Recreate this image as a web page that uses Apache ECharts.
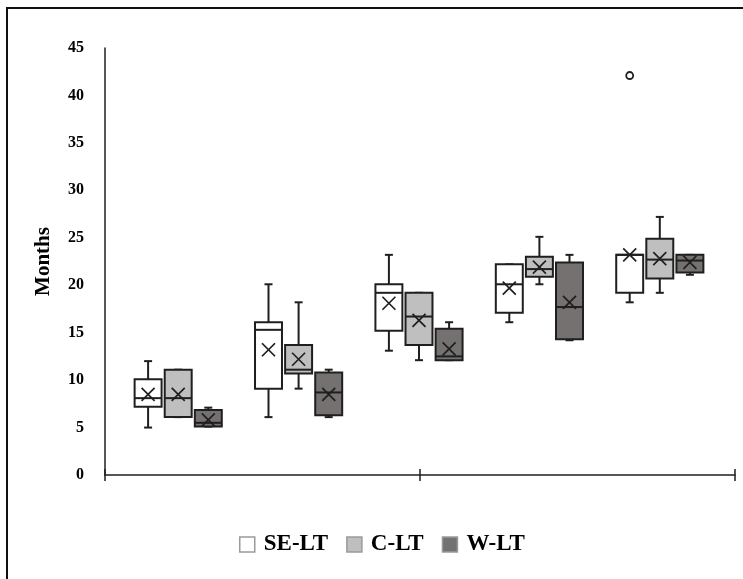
<!DOCTYPE html>
<html>
<head>
<meta charset="UTF-8">
<script src="https://cdn.jsdelivr.net/npm/echarts@6/dist/echarts.min.js"></script>
<style>
  html, body { margin: 0; padding: 0; background: #fff; }
  #chart { width: 743px; height: 579px; }
</style>
</head>
<body>
<div id="chart"></div>
<script>
// groups along the x axis (no labels in the figure)
const groups = ['1', '2', '3', '4', '5'];
const seriesNames = ['SE-LT', 'C-LT', 'W-LT'];

// box stats: [min, Q1, median, Q3, max]
const seLT = [
  [5, 7.2, 8.1, 10.1, 12],
  [6.1, 9.1, 15.3, 16.1, 20.1],
  [13.1, 15.2, 19.2, 20.1, 23.2],
  [16.1, 17.1, 20.1, 22.2, 22.2],
  [18.2, 19.2, 23.2, 23.2, 23.2]
];
const cLT = [
  [6.1, 6.1, 8.1, 11.1, 11.1],
  [9.1, 10.7, 11.1, 13.7, 18.2],
  [12.1, 13.7, 16.7, 19.2, 19.2],
  [20.1, 20.9, 21.7, 23, 25.1],
  [19.2, 20.7, 22.7, 24.9, 27.2]
];
const wLT = [
  [5.1, 5.1, 5.5, 6.85, 7.1],
  [6.1, 6.3, 8.7, 10.8, 11.1],
  [12.1, 12.1, 12.5, 15.4, 16.1],
  [14.2, 14.3, 17.7, 22.4, 23.2],
  [21.1, 21.35, 22.6, 23.2, 23.2]
];
// means (the x marks)
const seMean = [8.5, 13.2, 18.1, 19.7, 23.2];
const cMean = [8.5, 12.2, 16.3, 21.9, 22.8];
const wMean = [5.8, 8.5, 13.3, 18.2, 22.4];
// outliers: [group index, series index, value]
const outliers = [[4, 0, 42.1]];

const yTicks = { min: 0, max: 45, interval: 5 };

const FONT = '"Liberation Serif", "DejaVu Serif", serif';
const INK = '#1f1f1f';
const fills = ['#ffffff', '#bfbfbf', '#767171'];

function boxRenderer(slot, fill) {
  return function (params, api) {
    const g = api.value(0);
    const band = api.size([1, 0])[0];
    const cx = api.coord([g, 0])[0] + (slot - 1) * band / 4;
    const hw = band * 0.112;
    const cap = 4;
    const m = 6.5;
    const y = i => api.coord([g, api.value(i)])[1];
    const yMin = y(1), q1 = y(2), med = y(3), q3 = y(4), yMax = y(5), mean = y(6);
    const line = (x1, y1, x2, y2, w) => ({
      type: 'line',
      shape: { x1: x1, y1: y1, x2: x2, y2: y2 },
      style: { stroke: INK, lineWidth: w || 2 }
    });
    return {
      type: 'group',
      children: [
        line(cx, q3, cx, yMax), line(cx - cap, yMax, cx + cap, yMax),
        line(cx, q1, cx, yMin), line(cx - cap, yMin, cx + cap, yMin),
        {
          type: 'rect',
          shape: { x: cx - hw, y: q3, width: 2 * hw, height: q1 - q3 },
          style: { fill: fill, stroke: INK, lineWidth: 2 }
        },
        line(cx - hw, med, cx + hw, med),
        line(cx - m, mean - m, cx + m, mean + m, 1.7),
        line(cx - m, mean + m, cx + m, mean - m, 1.7)
      ]
    };
  };
}

function outlierRenderer(params, api) {
  const g = api.value(0);
  const band = api.size([1, 0])[0];
  const p = api.coord([g, api.value(1)]);
  const cx = p[0] + (api.value(2) - 1) * band / 4;
  return {
    type: 'circle',
    shape: { cx: cx, cy: p[1], r: 3.5 },
    style: { fill: '#fff', stroke: INK, lineWidth: 1.8 }
  };
}

const stats = [seLT, cLT, wLT];
const means = [seMean, cMean, wMean];

const boxSeries = seriesNames.map((name, s) => ({
  name: name,
  type: 'custom',
  xAxisIndex: 2,
  yAxisIndex: 1,
  itemStyle: { color: fills[s] },
  encode: { x: 0, y: [1, 2, 3, 4, 5] },
  renderItem: boxRenderer(s, fills[s]),
  data: stats[s].map((d, i) => [groups[i]].concat(d, [means[s][i]]))
}));

const chart = echarts.init(document.getElementById('chart'));
chart.setOption({
  animation: false,
  backgroundColor: '#fff',
  graphic: [{
    type: 'rect',
    shape: { x: 7, y: 8, width: 900, height: 800 },
    style: { fill: 'none', stroke: '#111', lineWidth: 2 },
    silent: true
  }],
  legend: {
    left: 234,
    top: 528,
    icon: 'rect',
    itemWidth: 15,
    itemHeight: 15,
    itemGap: 18,
    textStyle: { fontFamily: FONT, fontWeight: 'bold', fontSize: 23, color: '#000', padding: [0, 0, 0, 4] },
    data: seriesNames.map((n, i) => ({
      name: n,
      itemStyle: { color: fills[i], borderColor: '#9a9a9a', borderWidth: 1.5 }
    }))
  },
  grid: [
    { left: 105, right: 8, top: 48, bottom: 104 },
    { left: 118, right: 23, top: 48, bottom: 104 }
  ],
  xAxis: [
    {
      type: 'value', gridIndex: 0, position: 'bottom', min: 0, max: 2, interval: 1,
      axisLine: { show: true, lineStyle: { color: INK, width: 1.5 } },
      axisTick: { show: true, length: 6, lineStyle: { color: INK, width: 1.5 } },
      axisLabel: { show: false },
      splitLine: { show: false }
    },
    {
      type: 'value', gridIndex: 0, position: 'bottom', offset: 0, min: 0, max: 2, interval: 1,
      axisLine: { show: false },
      axisTick: { show: true, inside: true, length: 6, lineStyle: { color: INK, width: 1.5 } },
      axisLabel: { show: false },
      splitLine: { show: false }
    },
    {
      type: 'category', gridIndex: 1, data: groups,
      axisLine: { show: false }, axisTick: { show: false },
      axisLabel: { show: false }, splitLine: { show: false }
    }
  ],
  yAxis: [
    {
      type: 'value', gridIndex: 0,
      min: yTicks.min, max: yTicks.max, interval: yTicks.interval,
      name: 'Months',
      nameLocation: 'middle',
      nameGap: 51,
      nameTextStyle: { fontFamily: FONT, fontWeight: 'bold', fontSize: 21, color: '#000' },
      axisLine: { show: true, lineStyle: { color: INK, width: 1.5 } },
      axisTick: { show: false },
      splitLine: { show: false },
      axisLabel: { margin: 21, fontFamily: FONT, fontWeight: 'bold', fontSize: 16, color: '#000' }
    },
    {
      type: 'value', gridIndex: 1,
      min: yTicks.min, max: yTicks.max, interval: yTicks.interval,
      show: false
    }
  ],
  series: boxSeries.concat([{
    name: 'outliers',
    type: 'custom',
    xAxisIndex: 2,
    yAxisIndex: 1,
    encode: { x: 0, y: 1 },
    renderItem: outlierRenderer,
    data: outliers.map(o => [groups[o[0]], o[2], o[1]])
  }])
});
</script>
</body>
</html>
